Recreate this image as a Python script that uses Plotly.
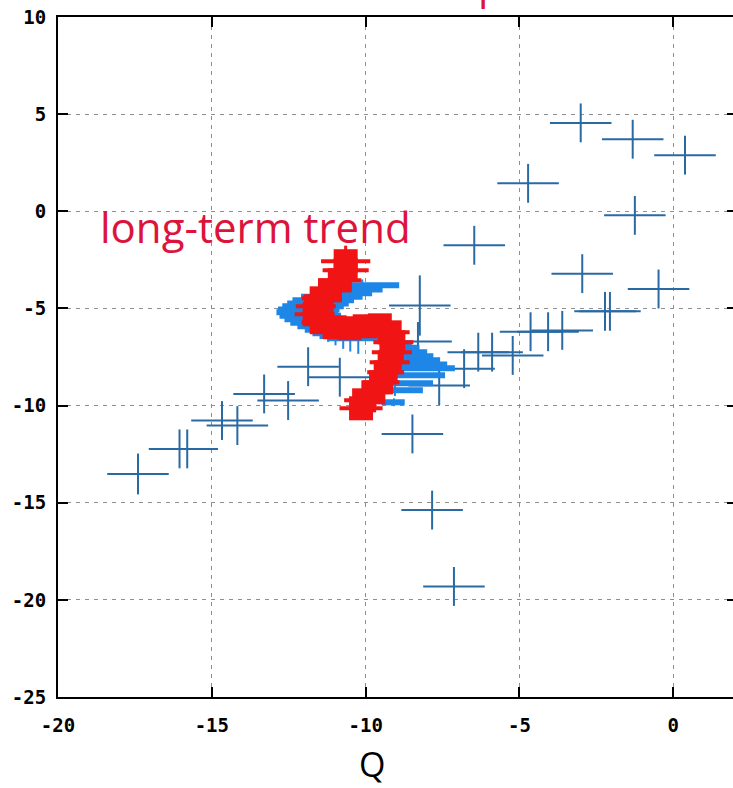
import plotly.graph_objects as go

# Individual measurements: position and symmetric uncertainties
pts_x = [-17.4, -16.05, -15.8, -14.67, -14.17, -13.3, -12.52, -11.87, -10.84,
         -8.24, -8.3, -8.48, -7.84, -7.13, -7.61, -6.8, -6.34, -5.89, -5.22,
         -4.64, -4.07, -3.61, -2.22, -2.06, -2.96, -0.48, -6.47, -4.72, -1.25,
         0.38, -1.32, -3.01]
pts_y = [-13.52, -12.23, -12.23, -10.77, -11.03, -9.4, -9.74, -8.0, -8.54,
         -4.85, -6.7, -11.46, -15.38, -19.31, -8.97, -8.1, -7.25, -7.25, -7.42,
         -6.2, -6.2, -6.13, -5.15, -5.15, -3.21, -4.0, -1.75, 1.44, -0.21,
         2.89, 3.71, 4.55]
pts_ex = [1.0, 1.0, 1.0, 1.0, 1.0, 1.0, 1.0, 1.0, 1.0,
          1.0, 1.1, 1.0, 1.0, 1.0, 1.0, 1.0, 1.0, 1.0, 1.0,
          1.0, 1.0, 1.0, 1.0, 1.0, 1.0, 1.0, 1.0, 1.0, 1.0,
          1.0, 1.0, 1.0]
pts_ey = [1.05, 1.0, 1.0, 1.0, 1.0, 1.0, 1.0, 1.0, 1.0,
          1.55, 1.0, 1.0, 1.0, 1.0, 1.0, 1.0, 1.0, 1.0, 1.0,
          1.0, 1.0, 1.0, 1.0, 1.0, 1.0, 1.0, 1.0, 1.0, 1.0,
          1.0, 1.0, 1.0]

# Smoothed path (blue) with its spread
smooth_x = [-10.11, -10.45, -10.79, -11.1, -11.38, -11.55, -11.71, -11.85, -11.9,
            -11.8, -11.64, -11.45, -11.22, -10.98, -10.73, -10.5, -10.24,
            -9.05, -9.05, -9.05, -9.05, -9.05, -9.05, -9.05, -9.05, -9.05, -9.05, -9.08]
smooth_y = [-3.81, -4.02, -4.22, -4.4, -4.58, -4.74, -4.89, -5.05, -5.2,
            -5.38, -5.56, -5.74, -5.92, -6.1, -6.28, -6.42, -6.54,
            -6.79, -7.02, -7.26, -7.46, -7.67, -7.88, -8.08, -8.44, -8.85, -9.21, -9.83]
smooth_ex_plus = [1.2, 1.0, 1.0, 1.0, 1.0, 1.0, 1.0, 1.0, 1.0,
                  1.0, 1.0, 1.0, 1.0, 1.0, 1.0, 1.0, 1.0,
                  0.55, 0.8, 1.05, 1.25, 1.47, 1.7, 1.95, 1.63, 1.24, 0.91, 0.35]
smooth_ex_minus = [1.0, 1.0, 1.0, 1.0, 1.0, 1.0, 1.0, 1.0, 1.0,
                   1.0, 1.0, 1.0, 1.0, 1.0, 1.0, 1.0, 1.0,
                   0.5, 0.5, 0.5, 0.5, 0.5, 0.5, 0.5, 0.5, 0.5, 0.5, 0.4]
smooth_ey = [0.3, 0.3, 0.3, 0.3, 0.3, 0.3, 0.3, 0.3, 0.3,
             0.3, 0.3, 0.4, 0.8, 0.8, 0.8, 0.8, 0.8,
             0.3, 0.3, 0.3, 0.3, 0.3, 0.3, 0.3, 0.3, 0.3, 0.3, 0.2]

# Long-term trend (red)
trend_x = [-10.65, -10.65, -10.84, -11.16, -11.43, -11.62, -11.66, -11.43, -11.01,
           -10.52, -10.03, -9.54, -9.22, -9.1, -9.15, -9.22, -9.35, -9.5,
           -9.75, -10.05, -10.15]
trend_y = [-2.57, -3.03, -3.55, -4.07, -4.48, -4.89, -5.30, -5.71, -5.97,
           -6.02, -5.92, -5.87, -6.23, -6.74, -7.26, -7.77, -8.29, -8.80,
           -9.32, -9.73, -10.14]
trend_ex = [0.8, 0.75, 0.7, 0.65, 0.65, 0.65, 0.65, 0.65, 0.65,
            0.65, 0.65, 0.65, 0.65, 0.65, 0.65, 0.65, 0.6, 0.6,
            0.6, 0.65, 0.7]
trend_ey = [0.8, 0.45, 0.45, 0.45, 0.45, 0.45, 0.45, 0.45, 0.45,
            0.45, 0.45, 0.45, 0.45, 0.45, 0.45, 0.45, 0.45, 0.45,
            0.45, 0.45, 0.55]

x_ticks = [-20, -15, -10, -5, 0]
y_ticks = [-25, -20, -15, -10, -5, 0, 5, 10]

CROSS = "#2a6aa3"
SMOOTH = "#1e86e6"
TREND = "#f01414"
LABEL = "#dc143c"

fig = go.Figure()

fig.add_trace(go.Scatter(
    x=pts_x, y=pts_y, mode="markers",
    marker=dict(size=1, color="rgba(0,0,0,0)"),
    error_x=dict(type="data", array=pts_ex, width=0, thickness=2, color=CROSS),
    error_y=dict(type="data", array=pts_ey, width=0, thickness=2, color=CROSS),
    showlegend=False, hoverinfo="skip",
))

fig.add_trace(go.Scatter(
    x=smooth_x, y=smooth_y, mode="markers",
    marker=dict(size=1, color="rgba(0,0,0,0)"),
    error_x=dict(type="data", symmetric=False, array=smooth_ex_plus,
                 arrayminus=smooth_ex_minus, width=0, thickness=6, color=SMOOTH),
    error_y=dict(type="data", array=smooth_ey, width=0, thickness=2, color=SMOOTH),
    showlegend=False, hoverinfo="skip",
))

fig.add_trace(go.Scatter(
    x=trend_x, y=trend_y, mode="markers",
    marker=dict(size=24, symbol="square", color=TREND),
    error_x=dict(type="data", array=trend_ex, width=0, thickness=4, color=TREND),
    error_y=dict(type="data", array=trend_ey, width=0, thickness=3, color=TREND),
    showlegend=False, hoverinfo="skip",
))

# invisible copy on the right-hand axis so its tick marks are drawn
fig.add_trace(go.Scatter(
    x=trend_x, y=trend_y, mode="markers", yaxis="y2",
    marker=dict(size=1, color="rgba(0,0,0,0)"),
    showlegend=False, hoverinfo="skip",
))

tick_font = dict(family="DejaVu Sans Mono", size=19, color="black", weight="bold")
grid = dict(showgrid=True, gridcolor="#8f8f8f", gridwidth=1, griddash="4px,5px")

fig.update_layout(
    width=733, height=788,
    margin=dict(l=58, r=0, t=17, b=91),
    paper_bgcolor="white", plot_bgcolor="white",
    xaxis=dict(
        range=[-20, 1.94], tickvals=x_ticks, ticktext=[str(v) for v in x_ticks],
        showline=True, linecolor="black", linewidth=2, mirror="ticks",
        ticks="inside", ticklen=10, tickwidth=2, tickcolor="black",
        zeroline=False, tickfont=tick_font, ticklabelstandoff=10, **grid,
    ),
    yaxis=dict(
        range=[-25, 10], tickvals=y_ticks, ticktext=[str(v) for v in y_ticks],
        showline=True, linecolor="black", linewidth=2, mirror=False,
        ticks="inside", ticklen=10, tickwidth=2, tickcolor="black",
        zeroline=False, tickfont=tick_font, ticklabelstandoff=6, **grid,
    ),
    yaxis2=dict(
        range=[-25, 10], tickvals=y_ticks, overlaying="y", side="right",
        showline=False, showgrid=False, zeroline=False, showticklabels=False,
        ticks="inside", ticklen=6, tickwidth=2, tickcolor="black",
    ),
)

fig.add_annotation(text="long-term trend", xref="x", yref="y", x=-18.7, y=-0.8,
                   xanchor="left", yanchor="middle", showarrow=False,
                   font=dict(family="Open Sans", size=42, color=LABEL))
fig.add_annotation(text="p", xref="paper", yref="paper", x=0.619, y=1.006,
                   xanchor="left", yanchor="bottom", showarrow=False,
                   font=dict(family="Open Sans", size=41, color=LABEL))
fig.add_annotation(text="Q", xref="paper", yref="paper", x=0.465, y=-0.099,
                   xanchor="center", yanchor="middle", showarrow=False,
                   font=dict(family="Open Sans", size=34, color="black"))

fig.write_html("out.html")
